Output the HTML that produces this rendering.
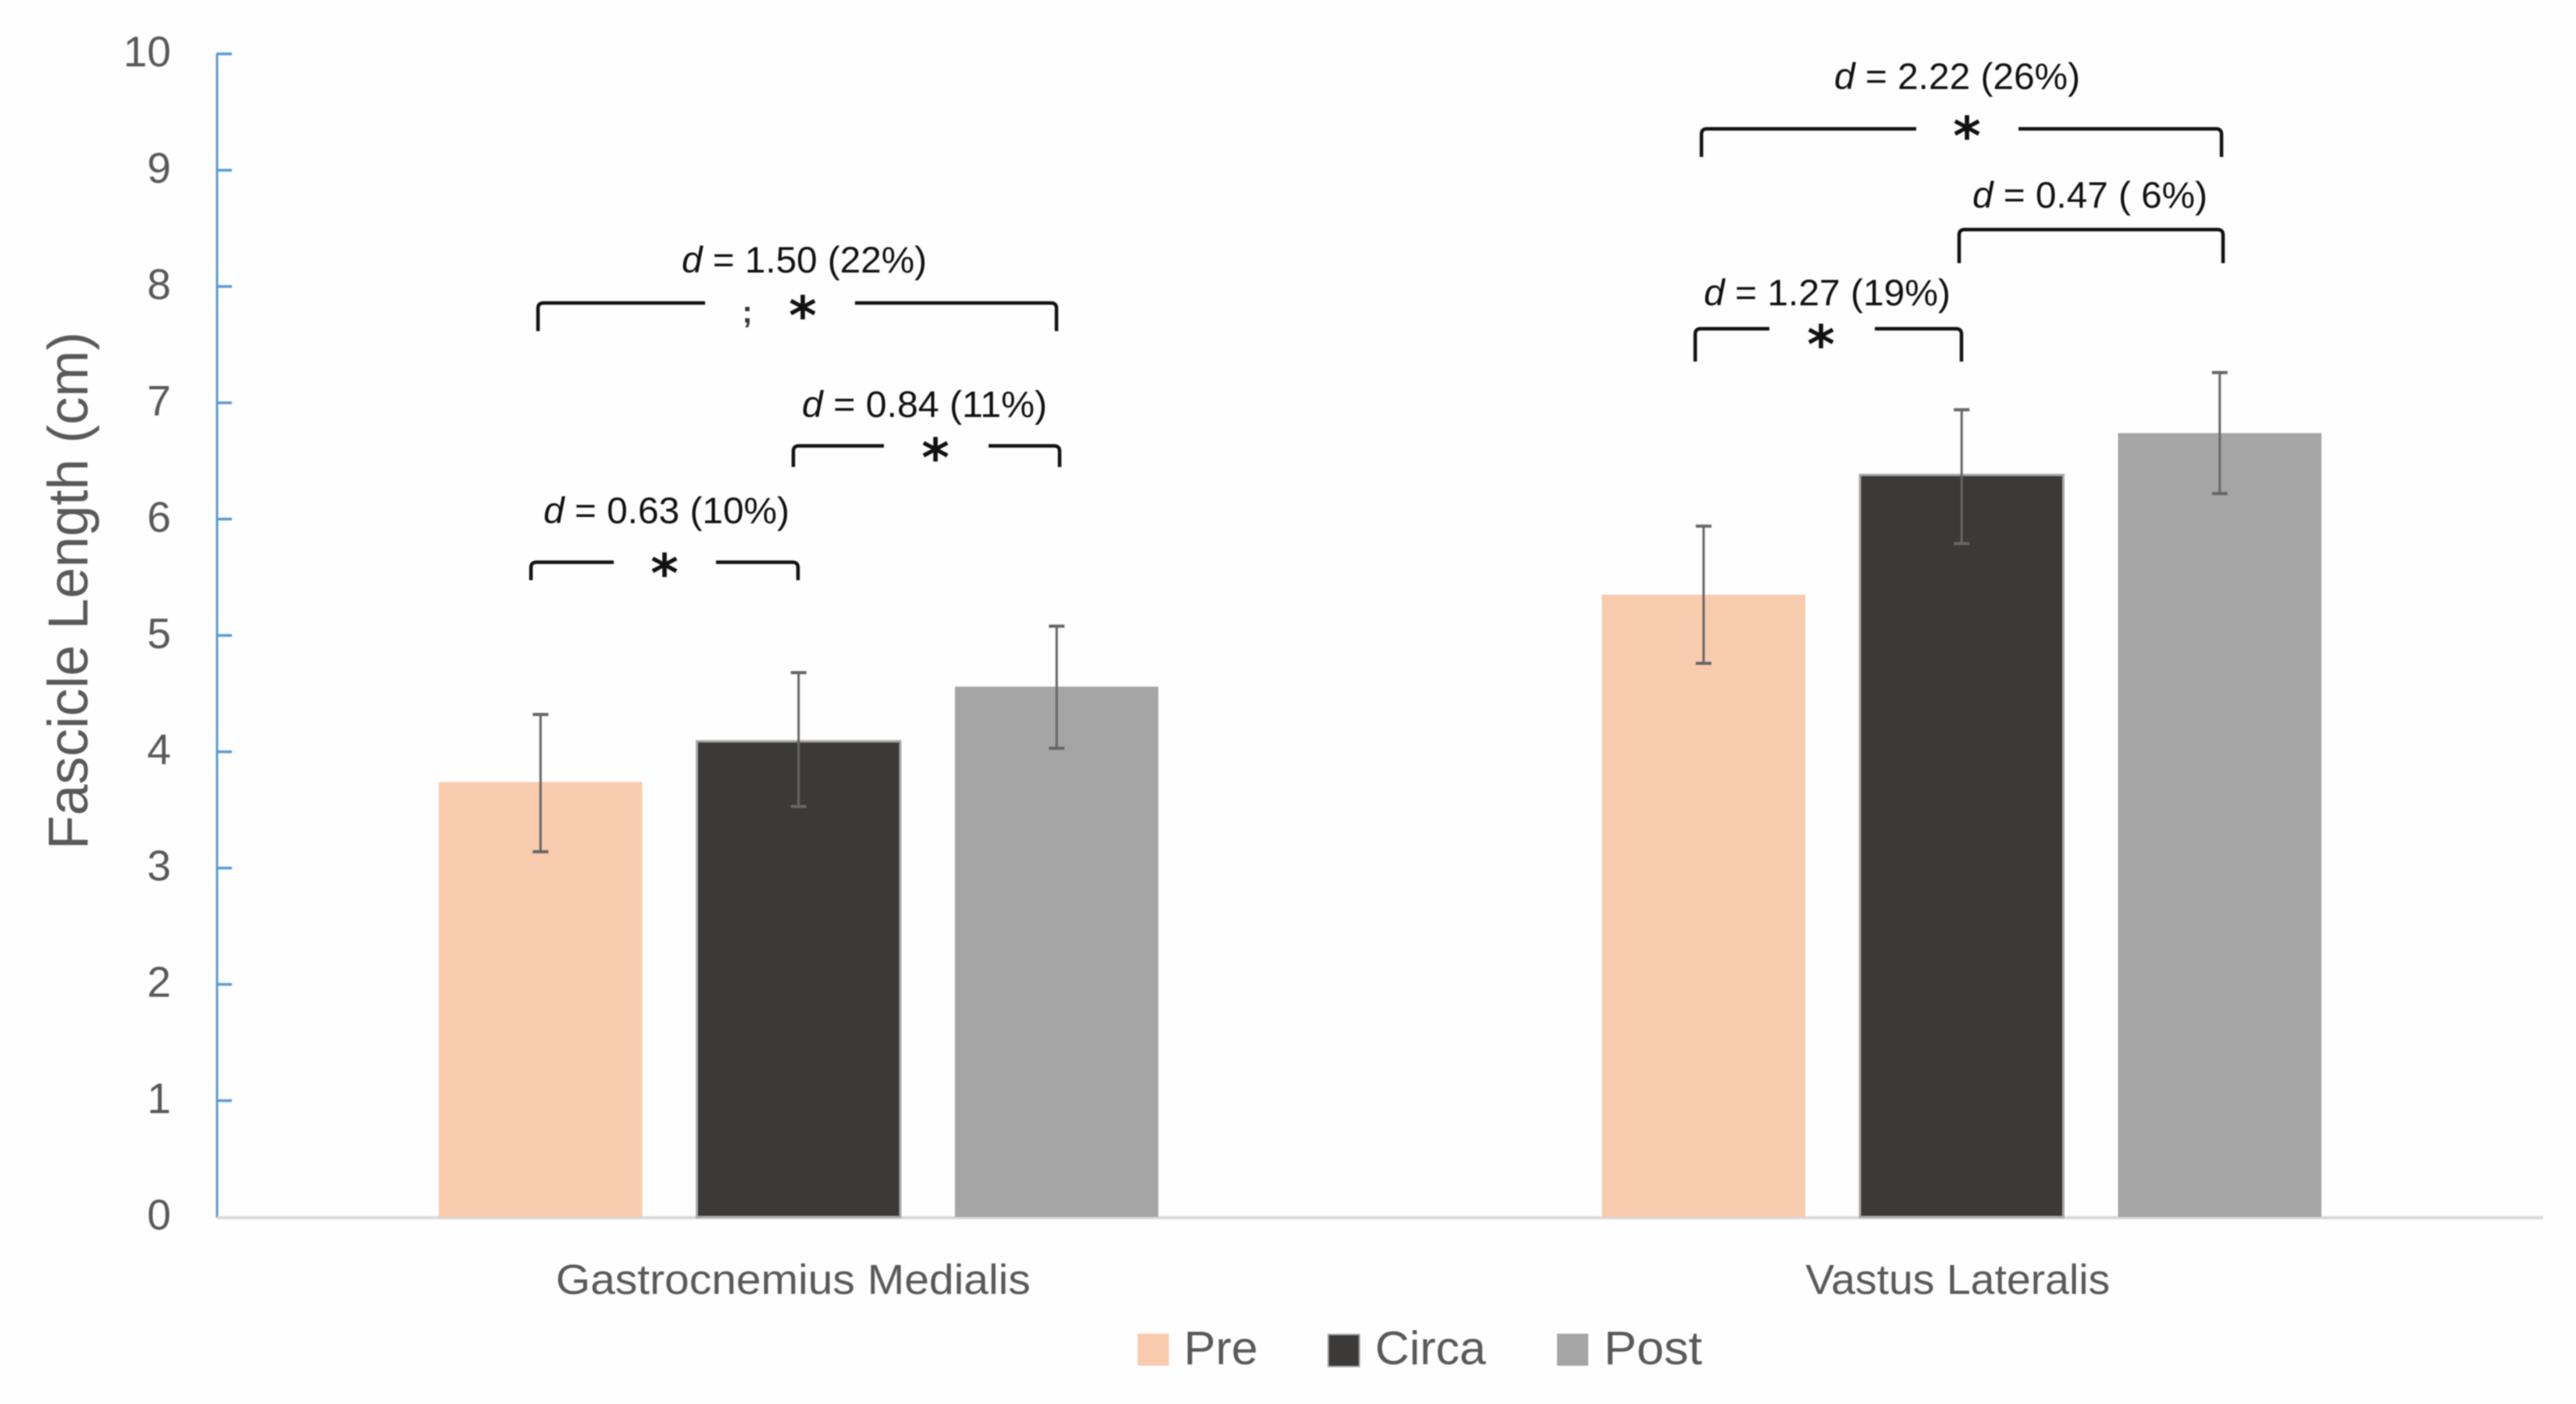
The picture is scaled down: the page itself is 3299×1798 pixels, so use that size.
<!DOCTYPE html>
<html lang="en">
<head>
<meta charset="utf-8">
<title>Fascicle Length</title>
<style>
html,body{margin:0;padding:0;background:#fefefe;}
svg{display:block;font-family:"Liberation Sans",sans-serif;}
.note{font-size:47px;fill:#111;}
.star{font-family:"DejaVu Sans",sans-serif;font-weight:bold;font-size:68px;fill:#111;text-anchor:middle;}
.br{fill:none;stroke:#111;stroke-width:4.5;}
.tick{font-size:55px;fill:#595959;text-anchor:end;}
.leg{font-size:60px;fill:#595959;}
.cat{font-size:54px;fill:#595959;}
</style>
</head>
<body>
<svg id="chart" xmlns="http://www.w3.org/2000/svg" width="3299" height="1798" viewBox="0 0 3299 1798">
  <rect x="0" y="0" width="3299" height="1798" fill="#fefefe"/>
  <g id="root" style="filter:blur(0.7px)">
    <text transform="translate(112,1088) rotate(-90)" font-size="72" fill="#595959" textLength="663" lengthAdjust="spacingAndGlyphs">Fascicle Length (cm)</text>
    <g id="axes"></g>
    <g id="bars"></g>
    <g id="errors"></g>

    <g>
      <text class="note" x="873" y="349" textLength="314" lengthAdjust="spacingAndGlyphs"><tspan font-style="italic">d</tspan> = 1.50 (22%)</text>
      <path class="br" d="M689 424V395Q689 388 696 388H903M1095 388H1346Q1353 388 1353 395V424"/>
      <text class="star" x="1028" y="428">*</text>
      <text x="957" y="413" font-size="40" font-weight="bold" fill="#333" text-anchor="middle">;</text>
    </g>
    <g>
      <text class="note" x="1027" y="534" textLength="314" lengthAdjust="spacingAndGlyphs"><tspan font-style="italic">d</tspan> = 0.84 (11%)</text>
      <path class="br" d="M1016 598V578Q1016 571 1023 571H1132M1266 571H1350Q1357 571 1357 578V598"/>
      <text class="star" x="1198" y="610">*</text>
    </g>
    <g>
      <text class="note" x="696" y="670" textLength="315" lengthAdjust="spacingAndGlyphs"><tspan font-style="italic">d</tspan> = 0.63 (10%)</text>
      <path class="br" d="M680 743V727Q680 720 687 720H786M917 720H1015Q1022 720 1022 727V743"/>
      <text class="star" x="851" y="758">*</text>
    </g>
    <g>
      <text class="note" x="2349" y="114" textLength="315" lengthAdjust="spacingAndGlyphs"><tspan font-style="italic">d</tspan> = 2.22 (26%)</text>
      <path class="br" d="M2179 201V172Q2179 165 2186 165H2454M2585 165H2838Q2845 165 2845 172V201"/>
      <text class="star" x="2519" y="198">*</text>
    </g>
    <g>
      <text class="note" x="2526" y="266" textLength="301" lengthAdjust="spacingAndGlyphs"><tspan font-style="italic">d</tspan> = 0.47 ( 6%)</text>
      <path class="br" d="M2509 337V301Q2509 294 2516 294H2840Q2847 294 2847 301V337"/>
    </g>
    <g>
      <text class="note" x="2182" y="391" textLength="316" lengthAdjust="spacingAndGlyphs"><tspan font-style="italic">d</tspan> = 1.27 (19%)</text>
      <path class="br" d="M2171 463V428Q2171 421 2178 421H2266M2401 421H2505Q2512 421 2512 428V463"/>
      <text class="star" x="2332" y="465">*</text>
    </g>

    <g>
      <g>
        <rect x="1457" y="1708" width="40" height="41" fill="#F8CBAD"/>
        <text class="leg" x="1516" y="1747" textLength="95" lengthAdjust="spacingAndGlyphs">Pre</text>
      </g>
      <g>
        <rect x="1701" y="1709" width="40" height="41" fill="#3B3A38" stroke="#a8a8a8" stroke-width="2"/>
        <text class="leg" x="1761" y="1747" textLength="142" lengthAdjust="spacingAndGlyphs">Circa</text>
      </g>
      <g>
        <rect x="1994" y="1708" width="40" height="41" fill="#A5A5A5"/>
        <text class="leg" x="2054" y="1747" textLength="126" lengthAdjust="spacingAndGlyphs">Post</text>
      </g>
    </g>
  </g>
</svg>
<script>
// Chart data
const categories = ["Gastrocnemius Medialis", "Vastus Lateralis"];
const categoryWidths = [608, 390];
const seriesNames = ["Pre", "Circa", "Post"];
const preValues = [3.74, 5.35];
const circaValues = [4.09, 6.38];
const postValues = [4.56, 6.74];
const preErrHigh = [4.32, 5.94];
const preErrLow = [3.14, 4.76];
const circaErrHigh = [4.68, 6.94];
const circaErrLow = [3.53, 5.79];
const postErrHigh = [5.08, 7.26];
const postErrLow = [4.03, 6.22];
const yTickLabels = [0, 1, 2, 3, 4, 5, 6, 7, 8, 9, 10];

const NS = "http://www.w3.org/2000/svg";
const plotLeft = 278, plotRight = 3257, plotBottom = 1558.5, plotTop = 69;
const yMax = 10;
const barWidth = 260.5, barStep = 330.5;
const seriesValues = [preValues, circaValues, postValues];
const seriesHigh = [preErrHigh, circaErrHigh, postErrHigh];
const seriesLow = [preErrLow, circaErrLow, postErrLow];
const seriesFill = ["#F8CBAD", "#3B3A38", "#A5A5A5"];
const seriesStroke = ["none", "#a8a8a8", "none"];

function yScale(v) { return plotBottom - (plotBottom - plotTop) * v / yMax; }
function xBand(c) { return plotLeft + (plotRight - plotLeft) * (c + 0.5) / categories.length; }
function xBar(c, s) { return xBand(c) + (s - (seriesNames.length - 1) / 2) * barStep; }
function make(tag, attrs, parent) {
  const el = document.createElementNS(NS, tag);
  for (const k in attrs) el.setAttribute(k, attrs[k]);
  parent.appendChild(el);
  return el;
}

const axes = document.getElementById("axes");
const bars = document.getElementById("bars");
const errors = document.getElementById("errors");

const yAxis = make("line", {x1: plotLeft, x2: plotLeft, y1: plotTop - 1, y2: plotBottom + 1, stroke: "#5B9BD5", "stroke-width": 3}, axes);



yTickLabels.forEach(function (t) {
  const y = yScale(t);
  if (t > 0) {
    const tick = make("line", {x1: plotLeft, x2: plotLeft + 19, y1: y, y2: y, stroke: "#5B9BD5", "stroke-width": 3.5}, axes);
    
    
  }
  const label = make("text", {x: 219, y: y + 16, "class": "tick"}, axes);
  label.textContent = String(t);
  
  
});

const xAxis = make("line", {x1: plotLeft, x2: plotRight, y1: plotBottom + 1, y2: plotBottom + 1, stroke: "#d9d9d9", "stroke-width": 4}, axes);



categories.forEach(function (name, c) {
  const label = make("text", {x: xBand(c) - (c === 0 ? 7 : 5), y: 1657, "class": "cat", "text-anchor": "middle", textLength: categoryWidths[c], lengthAdjust: "spacingAndGlyphs"}, axes);
  label.textContent = name;
  
  

  seriesNames.forEach(function (sName, s) {
    const cx = xBar(c, s);
    const top = yScale(seriesValues[s][c]);
    const rect = make("rect", {x: cx - barWidth / 2, y: top, width: barWidth, height: plotBottom - top, fill: seriesFill[s], stroke: seriesStroke[s], "stroke-width": seriesStroke[s] === "none" ? 0 : 3}, bars);
    
    

    const hi = yScale(seriesHigh[s][c]);
    const lo = yScale(seriesLow[s][c]);
    const stem = make("line", {x1: cx, x2: cx, y1: hi, y2: lo, stroke: "#666666", "stroke-width": 3}, errors);
    
    
    const capTop = make("line", {x1: cx - 10, x2: cx + 10, y1: hi, y2: hi, stroke: "#666666", "stroke-width": 4}, errors);
    
    
    const capBottom = make("line", {x1: cx - 10, x2: cx + 10, y1: lo, y2: lo, stroke: "#666666", "stroke-width": 4}, errors);
    
    
  });
});
</script>
</body>
</html>
